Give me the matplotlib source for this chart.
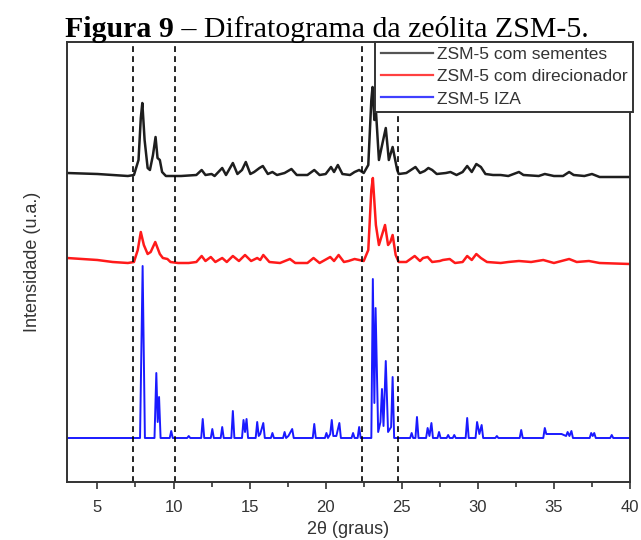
# import Modules ----------------------------------
import numpy as np
import matplotlib.pyplot as plt
from matplotlib.lines import Line2D
from matplotlib.ticker import MultipleLocator

# Data --------------------------------------------
# y values are stacked intensities (arbitrary units)
labels = ["ZSM-5 com sementes", "ZSM-5 com direcionador", "ZSM-5 IZA"]

# ZSM-5 com sementes (black)
x_sem = [3.0, 5.0, 7.0, 7.4, 7.7, 7.85, 7.95, 8.1, 8.3, 8.45, 8.65, 8.82, 8.95, 9.1,
         9.25, 9.5, 10.5, 11.5, 11.85, 12.1, 12.5, 12.7, 13.2, 13.45, 13.9, 14.2,
         14.5, 14.75, 15.05, 15.3, 15.65, 15.87, 16.2, 16.5, 16.8, 17.3, 17.75, 18.1,
         18.8, 19.25, 19.6, 20.0, 20.35, 20.55, 20.8, 21.1, 21.6, 21.9, 22.2, 22.5,
         22.8, 23.0, 23.08, 23.2, 23.3, 23.5, 23.75, 23.95, 24.15, 24.4, 24.7, 24.8,
         25.3, 25.6, 25.9, 26.2, 26.5, 26.75, 27.0, 27.3, 27.9, 28.2, 28.6, 29.0,
         29.3, 29.6, 29.9, 30.2, 30.5, 31.0, 31.5, 32.0, 32.7, 33.0, 34.0, 34.4,
         35.0, 35.6, 36.0, 36.3, 37.0, 37.5, 38.0, 40.0]
y_sem = [309, 308, 306, 307, 322, 364, 379, 342, 314, 312, 327, 345, 324, 322,
         310, 306, 306, 307, 312, 307, 308, 306, 314, 307, 319, 308,
         312, 320, 308, 310, 314, 316, 308, 310, 307, 309, 313, 307,
         307, 312, 307, 308, 315, 310, 317, 308, 307, 310, 312, 309,
         317, 382, 395, 362, 372, 322, 340, 354, 322, 335, 312, 308,
         309, 312, 315, 309, 311, 314, 312, 308, 309, 310, 307, 310,
         316, 310, 318, 315, 308, 307, 307, 306, 310, 307, 306, 308,
         306, 306, 310, 307, 306, 308, 305, 305]

# ZSM-5 com direcionador (red)
x_dir = [3.0, 4.0, 5.0, 6.0, 7.0, 7.4, 7.65, 7.85, 8.05, 8.3, 8.5, 8.8, 9.1, 9.3,
         9.6, 9.8, 10.3, 11.0, 11.5, 11.85, 12.1, 12.45, 12.75, 13.2, 13.5, 13.9,
         14.3, 14.7, 15.1, 15.5, 15.7, 15.9, 16.3, 17.0, 17.65, 18.0, 18.8, 19.2,
         19.6, 20.3, 20.55, 20.85, 21.2, 21.5, 21.9, 22.2, 22.5, 22.8, 23.0, 23.1,
         23.3, 23.5, 23.7, 23.9, 24.1, 24.25, 24.4, 24.6, 24.8, 25.3, 25.85, 26.2,
         26.4, 26.7, 27.0, 27.5, 27.7, 28.15, 28.5, 29.0, 29.3, 29.6, 29.9, 30.2,
         30.6, 31.5, 32.0, 32.7, 33.5, 34.3, 35.0, 36.0, 36.5, 37.3, 38.0, 40.0]
y_dir = [224, 223, 222, 220, 219, 220, 232, 250, 237, 228, 230, 240, 228, 224,
         223, 220, 219, 219, 220, 226, 221, 225, 220, 224, 220, 226,
         221, 227, 221, 224, 222, 227, 220, 219, 223, 219, 219, 224,
         219, 225, 221, 227, 220, 221, 223, 222, 221, 232, 292, 304,
         257, 237, 247, 257, 237, 240, 247, 227, 220, 220, 226, 221,
         224, 225, 220, 221, 222, 223, 219, 220, 226, 222, 228, 224,
         220, 219, 220, 221, 220, 222, 219, 223, 220, 221, 219, 218]

# ZSM-5 IZA (blue), simulated pattern
x_iza = [3.0, 7.8, 7.97, 8.12, 8.75, 8.87, 8.96, 9.05, 9.15, 9.75, 9.85, 9.95,
         10.9, 11.0, 11.1, 11.82, 11.92, 12.02, 12.45, 12.55, 12.65, 13.1, 13.2, 13.3,
         13.8, 13.9, 14.0, 14.5, 14.6, 14.7, 14.8, 14.9, 15.4, 15.5, 15.6, 15.7,
         15.9, 16.0, 16.4, 16.5, 16.6, 17.2, 17.3, 17.4, 17.55, 17.8, 17.9, 19.15,
         19.25, 19.35, 19.95, 20.05, 20.15, 20.3, 20.4, 20.5, 20.7, 20.9, 21.0, 21.7,
         21.8, 21.9, 22.1, 22.2, 22.3, 23.0, 23.1, 23.2, 23.28, 23.45, 23.6, 23.7,
         23.8, 23.95, 24.1, 24.3, 24.4, 24.5, 25.55, 25.65, 25.75, 25.9, 26.0, 26.1,
         26.6, 26.7, 26.82, 26.95, 27.05, 27.35, 27.45, 27.55, 27.95, 28.05, 28.15, 28.35,
         28.45, 28.55, 29.2, 29.3, 29.4, 29.85, 29.95, 30.1, 30.25, 30.35, 31.15, 31.25,
         31.35, 32.75, 32.85, 32.95, 34.3, 34.4, 34.5, 35.5, 35.8, 35.9, 36.02, 36.15,
         36.25, 37.35, 37.45, 37.55, 37.65, 37.75, 38.7, 38.8, 38.9, 40.0]
y_iza = [44, 44, 216, 44, 44, 109, 60, 85, 44, 44, 51, 44,
         44, 46, 44, 44, 63, 44, 44, 53, 44, 44, 55, 44,
         44, 71, 44, 44, 62, 50, 63, 44, 44, 60, 46, 48,
         59, 44, 44, 49, 44, 44, 50, 44, 46, 53, 44, 44,
         58, 44, 44, 49, 44, 48, 62, 46, 46, 59, 44, 44,
         49, 44, 44, 55, 44, 44, 203, 79, 174, 50, 60, 93,
         56, 121, 50, 55, 105, 44, 44, 49, 44, 44, 65, 44,
         44, 54, 46, 59, 44, 44, 50, 44, 44, 47, 44, 44,
         47, 44, 44, 64, 44, 44, 60, 48, 57, 44, 44, 46,
         44, 44, 52, 44, 44, 54, 48, 48, 46, 50, 46, 51,
         44, 44, 49, 46, 49, 44, 44, 47, 44, 44]

# dashed reference lines (2theta)
x_ref = [7.35, 10.1, 22.4, 24.75]

# Plot ---------------------------------------------
fig = plt.figure(figsize=(6.41, 5.40), dpi=100)
ax = fig.add_axes([67/641, 58/540, 563/641, 440/540])

ax.plot(x_sem, y_sem, color='#1e1e1e', lw=1.8)
ax.plot(x_dir, y_dir, color='#ff1a1a', lw=1.8)
ax.plot(x_iza, y_iza, color='#1a1aff', lw=1.4)

for xr in x_ref:
    ax.axvline(xr, color='black', lw=1.2, ls=(0, (3.5, 2.5)))

ax.set_xlim(3, 40)
ax.set_ylim(0, 440)
ax.xaxis.set_major_locator(MultipleLocator(5))
ax.xaxis.set_minor_locator(MultipleLocator(2.5))
ax.set_yticks([])
ax.tick_params(axis='x', which='major', direction='out', length=5, width=1.2,
               colors='#333333', labelsize=12, pad=8)
ax.tick_params(axis='x', which='minor', direction='out', length=3.5, width=1.2,
               colors='#333333')
for s in ax.spines.values():
    s.set_color('#333333')
    s.set_linewidth(1.4)

ax.set_xlabel('2θ (graus)', fontsize=13, color='#333333', labelpad=4,
              family='Liberation Sans')
ax.set_ylabel('Intensidade (u.a.)', fontsize=13, color='#333333', labelpad=19,
              family='Liberation Sans')
for t in ax.get_xticklabels():
    t.set_family('Liberation Sans')

handles = [Line2D([], [], color='#555555', lw=1.6),
           Line2D([], [], color='#ff4040', lw=1.6),
           Line2D([], [], color='#4040ff', lw=1.6)]
leg = ax.legend(handles, labels, loc='upper right', bbox_to_anchor=(1.005, 1.0),
                borderaxespad=0, fancybox=False, framealpha=1, handlelength=3.0,
                handletextpad=0.25, labelspacing=0.4, borderpad=0.3,
                prop={'family': 'Liberation Sans', 'size': 12.5})
leg.get_frame().set_edgecolor('#333333')
leg.get_frame().set_linewidth(1.4)
for t in leg.get_texts():
    t.set_color('#333333')

t1 = fig.text(65/641, 1 - 37/540, 'Figura 9', fontsize=21.5, weight='bold',
              family='Liberation Serif', va='baseline')
fig.canvas.draw()
bb = t1.get_window_extent()
fig.text(bb.x1 / fig.bbox.width, 1 - 37/540, ' – Difratograma da zeólita ZSM-5.',
         fontsize=21.5, family='Liberation Serif', va='baseline')

fig.savefig('out.png', dpi=100)
